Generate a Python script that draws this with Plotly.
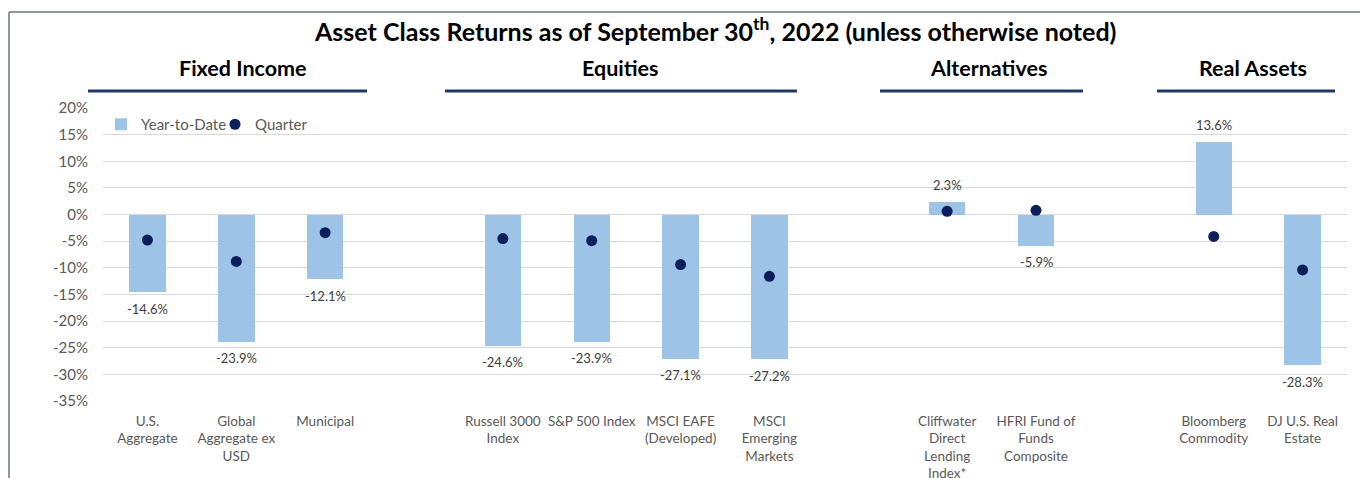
import plotly.graph_objects as go

# ---- data ----
categories = [
    "U.S.<br>Aggregate", "Global<br>Aggregate ex<br>USD", "Municipal", "",
    "Russell 3000<br>Index", "S&P 500 Index", "MSCI EAFE<br>(Developed)", "MSCI<br>Emerging<br>Markets", "",
    "Cliffwater<br>Direct<br>Lending<br>Index*", "HFRI Fund of<br>Funds<br>Composite", "",
    "Bloomberg<br>Commodity", "DJ U.S. Real<br>Estate",
]
ytd = [-14.6, -23.9, -12.1, None, -24.6, -23.9, -27.1, -27.2, None, 2.3, -5.9, None, 13.6, -28.3]
quarter = [-4.8, -8.8, -3.4, None, -4.5, -4.9, -9.4, -11.6, None, 0.6, 0.8, None, -4.1, -10.4]
group_names = ["Fixed Income", "Equities", "Alternatives", "Real Assets"]
y_ticks = [20, 15, 10, 5, 0, -5, -10, -15, -20, -25, -30, -35]

# ---- layout helpers (reference pixel -> paper); page body has an 8px margin ----
OFF = 8
W, H = 1368 - OFF, 478 - OFF
PL, PR, PT, PB = 103 - OFF, 1347 - OFF, 108 - OFF, 401 - OFF
def px(x):
    return (x - OFF - PL) / (PR - PL)
def py(y):
    return (PB - (y - OFF)) / (PB - PT)

xpos = list(range(len(categories)))
bx = [x for x, v in zip(xpos, ytd) if v is not None]
by = [v for v in ytd if v is not None]
qx = [x for x, v in zip(xpos, quarter) if v is not None]
qy = [v for v in quarter if v is not None]
tv = [x for x, c in zip(xpos, categories) if c]
tt = [c for c in categories if c]

FONT = "Lato, 'Open Sans', sans-serif"

fig = go.Figure()
fig.add_trace(go.Bar(
    x=bx, y=by, width=0.41, name="Year-to-Date", legend="legend",
    marker=dict(color="#9DC3E6", line=dict(width=0)),
))
fig.add_trace(go.Scatter(
    x=qx, y=qy, mode="markers", name="Quarter", legend="legend2",
    marker=dict(size=11, color="#0B1F5C"),
))

annotations = []
shapes = []

# data labels for YTD bars (anchored to the bar ends via the data axes)
for x, v in zip(bx, by):
    annotations.append(dict(
        x=x, y=v, xref="x", yref="y", text=f"{v:.1f}%", showarrow=False,
        xanchor="center", yanchor="middle", yshift=(17 if v >= 0 else -16.5),
        font=dict(size=13, color="#404040", family=FONT)))

# group headers and underlines (reference pixel positions)
headers = [
    (243, 88, 367),
    (620, 445, 797),
    (988, 880, 1083),
    (1253, 1157, 1335),
]
for (cx, x0, x1), gname in zip(headers, group_names):
    annotations.append(dict(
        text=f"<b>{gname}</b>", x=px(cx), y=py(68), xref="paper", yref="paper",
        showarrow=False, font=dict(size=21.5, color="#000000", family=FONT),
        xanchor="center", yanchor="middle"))
    shapes.append(dict(type="line", xref="paper", yref="paper",
                       x0=px(x0), x1=px(x1), y0=py(91), y1=py(91),
                       line=dict(color="#1F3864", width=3)))

annotations.append(dict(
    text="<b>Asset Class Returns as of September 30<sup>th</sup>, 2022 (unless otherwise noted)</b>",
    x=px(715), y=py(29), xref="paper", yref="paper", showarrow=False,
    font=dict(size=25, color="#000000", family=FONT), xanchor="center", yanchor="middle"))

# outer frame
shapes.append(dict(type="line", xref="paper", yref="paper",
                   x0=px(9), x1=px(1372), y0=py(12), y1=py(12),
                   line=dict(color="#6B7380", width=1.5)))
shapes.append(dict(type="line", xref="paper", yref="paper",
                   x0=px(9), x1=px(9), y0=py(12), y1=py(482),
                   line=dict(color="#6B7380", width=1.5)))

legend_common = dict(orientation="h", xanchor="left", yanchor="top",
                     font=dict(size=15, color="#595959"), bgcolor="rgba(0,0,0,0)",
                     itemwidth=30)
fig.update_layout(
    width=W, height=H,
    margin=dict(l=PL, r=W - PR, t=PT, b=H - PB, autoexpand=False),
    paper_bgcolor="white", plot_bgcolor="white",
    font=dict(family=FONT, size=13, color="#595959"),
    showlegend=True,
    legend=dict(x=px(101), y=py(108), **legend_common),
    legend2=dict(x=px(215), y=py(108), **legend_common),
    annotations=annotations, shapes=shapes,
    bargap=0,
)
fig.update_xaxes(
    range=[-0.5, len(categories) - 0.5], tickmode="array",
    tickvals=tv, ticktext=tt, showgrid=False, zeroline=False,
    showline=False, ticks="", tickangle=0, ticklabelstandoff=10,
    tickfont=dict(size=13.5, color="#595959"), automargin=False,
)
fig.update_yaxes(
    range=[-35, 20], tickmode="array", tickvals=y_ticks,
    ticktext=[f"{t}%" for t in y_ticks],
    showgrid=True, gridcolor="#D9D9D9", gridwidth=1,
    zeroline=True, zerolinecolor="#D9D9D9", zerolinewidth=1,
    showline=False, ticks="", ticklabelstandoff=14,
    tickfont=dict(size=15, color="#595959"), automargin=False,
)

fig.write_html("out.html")
